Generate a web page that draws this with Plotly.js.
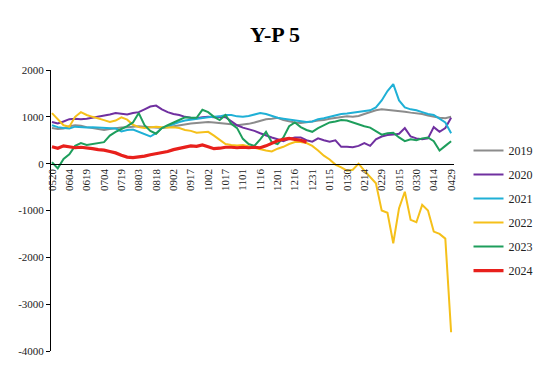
<!DOCTYPE html>
<html>
<head>
<meta charset="utf-8">
<script src="https://cdn.plot.ly/plotly-3.0.1.min.js"></script>
<style>html,body{margin:0;padding:0;background:#fff;}#chart{width:550px;height:366px;}</style>
</head>
<body>
<div id="chart"></div>
<script>
var dates = ["0520","0525","0530","0604","0609","0614","0619","0624","0629","0704","0709","0714","0719","0724","0729","0803","0808","0813","0818","0823","0828","0902","0907","0912","0917","0922","0927","1002","1007","1012","1017","1022","1027","1101","1106","1111","1116","1121","1126","1201","1206","1211","1216","1221","1226","1231","0105","0110","0115","0120","0125","0130","0204","0209","0214","0219","0224","0229","0305","0310","0315","0320","0325","0330","0404","0409","0414","0419","0424","0429"];
var tickLabels = ["0520","0604","0619","0704","0719","0803","0818","0902","0917","1002","1017","1101","1116","1201","1216","1231","0115","0130","0214","0229","0315","0330","0414","0429"];

var s2019 = [760,740,750,800,820,810,780, 760,730,720,740,760,770, 780,790,800,790,780,770, 760,780,800,830,850,860, 870,880,890,880,870,860, 840,820,830,850,880,920, 950,960,980,930,900,880, 870,880,900,920,930,960, 980,1000,1010,1000,1020,1060, 1100,1140,1160,1150,1130,1120, 1110,1090,1080,1060,1030,1000, 980,970,1000];
var s2020 = [890,860,900,950,960,950,960, 980,1000,1020,1050,1080,1060, 1050,1080,1100,1160,1220,1240, 1160,1100,1060,1040,1000,980, 970,990,1000,990,1000,990, 900,820,770,740,700,650, 600,560,520,480,530,560, 560,500,470,540,500,470, 500,360,360,350,380,440, 380,520,580,610,620,640, 760,580,540,520,540,780, 680,760,980];
var s2021 = [820,780,760,750,790,780,770, 780,770,760,760,750,690, 720,730,680,620,580,650, 760,800,850,890,920,940, 960,980,990,1000,1010,1040, 1040,1010,1000,1020,1050,1080, 1060,1020,980,960,940,930, 900,890,900,950,970,1000, 1040,1060,1070,1090,1110,1120, 1140,1200,1350,1550,1700,1350, 1200,1160,1140,1100,1060,1040, 960,880,650];
var s2022 = [1080,950,820,790,1000,1100,1040, 1000,970,930,890,920,990, 940,830,780,760,780,790, 780,770,780,760,720,700, 660,670,680,600,500,420, 400,390,400,370,340,300, 280,260,320,360,420,460, 460,440,380,280,170,90, -20,-80,-150,-130,0,-150, -280,-420,-1000,-1050,-1700,-950, -600,-1200,-1250,-880,-1000,-1450, -1500,-1600,-3600];
var s2023 = [30,-100,100,200,380,440,400, 420,430,460,600,680,740, 800,880,1080,820,700,640, 760,820,880,930,990,980, 980,1150,1100,1000,930,1040, 850,760,530,420,380,520, 680,460,420,560,800,880, 780,720,680,760,820,880, 900,930,920,880,830,800, 770,700,620,650,660,560, 480,520,500,540,560,480, 280,380,480];
var s2024 = [360,330,380,360,340,350,340, 320,300,290,260,230,180, 140,130,140,160,190,210, 230,260,300,330,360,380, 370,400,360,320,330,350, 350,340,350,340,350,340, 380,440,490,520,540,520, 500,460];

var seriesNames = ["2019","2020","2021","2022","2023","2024"];
var seriesData = [s2019,s2020,s2021,s2022,s2023,s2024];
var colors = ["#8c8c8c","#7030a0","#1fb0d6","#f5c01a","#1e9e5c","#e8201c"];
var widths = [2,2,2,2,2,3.2];
var SERIF = '"Liberation Serif", "Times New Roman", "DejaVu Serif", serif';

var traces = seriesNames.map(function(n,i){
  return {
    x: dates.slice(0, seriesData[i].length),
    y: seriesData[i],
    name: n,
    type: 'scatter',
    mode: 'lines',
    legendgroup: 'g'+i,
    line: {color: colors[i], width: widths[i]}
  };
});

var layout = {
  width: 550, height: 366,
  margin: {l:51, r:85, t:70, b:15},
  paper_bgcolor: '#fff', plot_bgcolor: '#fff',
  title: {text: 'Y-P 5', font: {family: SERIF, size: 22, color: '#000', weight: 'bold'}, x: 0.5, xanchor: 'center', y: 0.905, yref: 'container', yanchor: 'middle'},
  showlegend: true,
  legend: {x: 1.036, y: 0.765, xanchor: 'left', yanchor: 'top', font: {family: SERIF, size: 12, color: '#222'}, tracegroupgap: 5, bgcolor: 'rgba(0,0,0,0)'},
  xaxis: {
    type: 'category',
    categoryorder: 'array', categoryarray: dates,
    range: [-0.17, 69.5],
    tickmode: 'array', tickvals: tickLabels, ticktext: tickLabels,
    tickangle: -90,
    tickfont: {family: SERIF, size: 11, color: '#222'},
    showline: true, linecolor: '#000', linewidth: 1,
    showgrid: false, zeroline: false, ticks: '',
    anchor: 'free', position: 0.6667
  },
  yaxis: {
    range: [-4000, 2000],
    tickvals: [-4000,-3000,-2000,-1000,0,1000,2000],
    ticktext: ['-4000','-3000','-2000','-1000','0','1000','2000'],
    tickfont: {family: SERIF, size: 11, color: '#222'},
    showline: true, linecolor: '#000', linewidth: 1,
    ticks: 'outside', ticklen: 4, tickcolor: '#000',
    showgrid: false, zeroline: false
  }
};

Plotly.newPlot('chart', traces, layout, {displayModeBar: false, staticPlot: true});
</script>
</body>
</html>
